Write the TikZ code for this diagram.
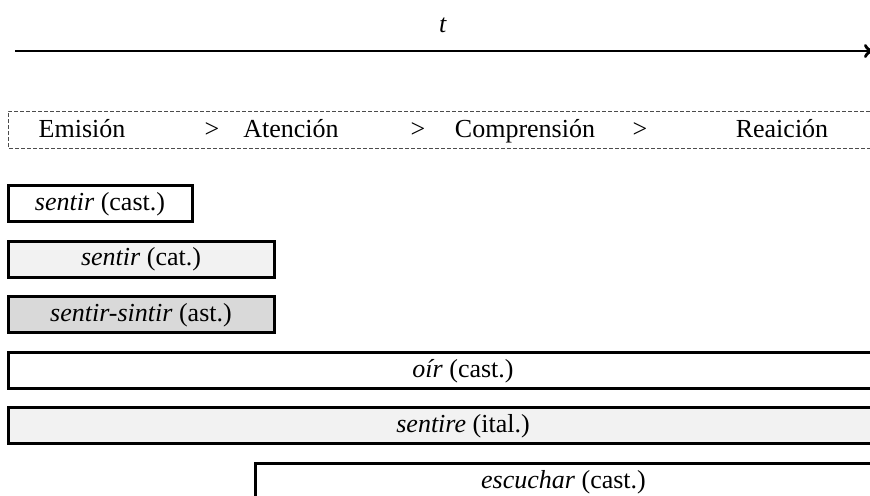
\documentclass[tikz,border=0pt]{standalone}
\usepackage{fontspec}
\setmainfont{Liberation Serif}
\usetikzlibrary{arrows.meta}
\definecolor{paleg}{HTML}{F2F2F2}
\definecolor{midg}{HTML}{D9D9D9}
\tikzset{
  >={To[length=5pt,width=7pt]},
}
\tikzstyle{every node}=[font=\fontsize{13}{15}\selectfont]
\tikzstyle{bar}=[draw,line width=1.5pt,rectangle,inner sep=0pt,minimum height=18pt,
  text height=1.8ex,text depth=.3ex]
\tikzstyle{phase}=[inner sep=1pt,text height=1.8ex,text depth=.3ex]
\tikzstyle{frame}=[draw=black!70,line width=0.5pt,dash pattern=on 2pt off 1pt]
\begin{document}
\begin{tikzpicture}[x=0.5pt,y=-0.5pt]
    \useasboundingbox (0,0) rectangle (870,495);
    \clip (0,0) rectangle (870,495);

    % time axis
    \node (t) at (443,25) {\textit{t}};
    \coordinate (t0) at (15,51);
    \coordinate (t1) at (874,51);
    \draw[->,line width=1.4pt] (t0)--(t1);

    % phases
    \draw[frame] (876,111) rectangle (8,148);
    \node[phase] (emi) at (82,131) {Emisión};
    \node[phase] (gt1) at (212,131) {>};
    \node[phase] (ate) at (291,131) {Atención};
    \node[phase] (gt2) at (418,131) {>};
    \node[phase] (com) at (525,131) {Comprensión};
    \node[phase] (gt3) at (640,131) {>};
    \node[phase] (rea) at (782,131) {Reaición};

    % verbs
    \node[bar,minimum width=92pt] (cast1) at (100,203.5) {\textit{sentir} (cast.)};
    \node[bar,fill=paleg,minimum width=133pt] (cat) at (141,259) {\textit{sentir} (cat.)};
    \node[bar,fill=midg,minimum width=133pt] (ast) at (141,314.5) {\textit{sentir-sintir} (ast.)};
    \node[bar,minimum width=455pt] (cast2) at (463,370.5) {\textit{oír} (cast.)};
    \node[bar,fill=paleg,minimum width=455pt] (ital) at (463,425.5) {\textit{sentire} (ital.)};
    \node[bar,minimum width=308.5pt] (cast3) at (563.5,481.5) {\textit{escuchar} (cast.)};
  \end{tikzpicture}
\end{document}
